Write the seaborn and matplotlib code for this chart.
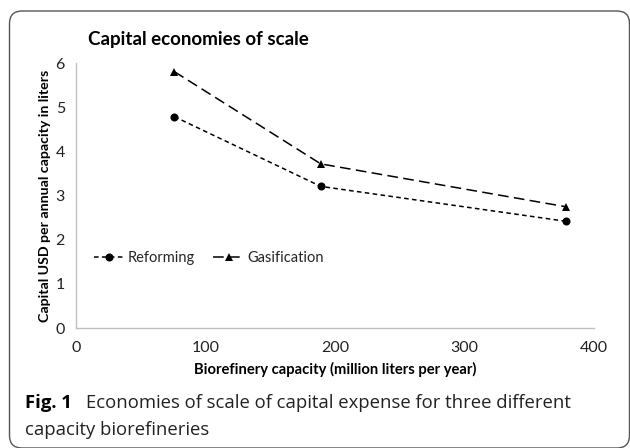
import matplotlib
matplotlib.use("Agg")
import matplotlib.pyplot as plt
import seaborn as sns
import pandas as pd
from matplotlib.patches import FancyBboxPatch
from matplotlib.lines import Line2D

capacity = [76, 189, 378]
reforming = [4.79, 3.21, 2.42]
gasification = [5.81, 3.72, 2.75]
x_ticks = [0, 100, 200, 300, 400]
y_ticks = [0, 1, 2, 3, 4, 5, 6]

sns.set_theme(style="white")
plt.rcParams['font.family'] = ['Lato', 'DejaVu Sans']

W, H = 630, 448
fig = plt.figure(figsize=(W / 100, H / 100), dpi=100)
ax = fig.add_axes([76 / W, 1 - 328 / H, (594 - 76) / W, (328 - 63.3) / H])

df_r = pd.DataFrame({"x": capacity, "y": reforming})
df_g = pd.DataFrame({"x": capacity, "y": gasification})
sns.lineplot(data=df_r, x="x", y="y", ax=ax, color="black", marker="o",
             markersize=5.8, linewidth=1.1, markeredgewidth=0)
sns.lineplot(data=df_g, x="x", y="y", ax=ax, color="black", marker="^",
             markersize=6.3, linewidth=1.1, markeredgewidth=0)
ax.lines[0].set_dashes((3, 2.2))
ax.lines[1].set_dashes((7, 3.5))

ax.set_xlim(0, 400)
ax.set_ylim(0, 6)
ax.set_xticks(x_ticks)
ax.set_yticks(y_ticks)
ax.set_xticklabels([str(v) for v in x_ticks])
ax.set_yticklabels([str(v) for v in y_ticks])
for s in ["top", "right"]:
    ax.spines[s].set_visible(False)
for s in ["left", "bottom"]:
    ax.spines[s].set_color("#bfbfbf")
    ax.spines[s].set_linewidth(1.0)
ax.tick_params(axis="both", which="major", direction="out", length=4,
               color="#bfbfbf", width=1.0, labelsize=11.5, labelcolor="#222222")
ax.tick_params(axis="x", pad=5)
ax.tick_params(axis="y", pad=4)

ax.set_xlabel("Biorefinery capacity (million liters per year)", fontsize=10.6,
              fontweight="bold", color="black", labelpad=5)
ax.set_ylabel("Capital USD per annual capacity in liters", fontsize=10.2,
              fontweight="bold", color="black", labelpad=3)

fig.text(88 / W, 1 - 40 / H, "Capital economies of scale", fontsize=13.5,
         fontweight="bold", va="center", ha="left", color="black")

h1 = Line2D([], [], color="black", marker="o", markersize=5.8, linewidth=1.1,
            dashes=(3, 2.2), markeredgewidth=0)
h2 = Line2D([], [], color="black", marker="^", markersize=6.3, linewidth=1.1,
            dashes=(7, 3.5), markeredgewidth=0)
ax.legend([h1, h2], ["Reforming", "Gasification"], ncol=2, frameon=False,
          loc="center left", bbox_to_anchor=(0.023, 0.265), fontsize=10.5,
          handlelength=2.1, handletextpad=0.2, columnspacing=1.3,
          borderaxespad=0)

cap_family = ["Open Sans", "DejaVu Sans"]
t1 = fig.text(25 / W, 1 - 408 / H, "Fig. 1", fontsize=13.3, va="baseline",
              ha="left", fontweight="bold", color="black", family=cap_family)
fig.canvas.draw()
bb = t1.get_window_extent(renderer=fig.canvas.get_renderer())
fig.text((bb.x1 + 14) / W, 1 - 408 / H,
         "Economies of scale of capital expense for three different",
         fontsize=13.3, va="baseline", ha="left", color="#222222",
         family=cap_family)
fig.text(25 / W, 1 - 435 / H, "capacity biorefineries", fontsize=13.3,
         va="baseline", ha="left", color="#222222", family=cap_family)

box = FancyBboxPatch((9.5 / W, 0 / H), (629.5 - 9.5) / W, (H - 11) / H,
                     boxstyle="round,pad=0,rounding_size=0.02",
                     transform=fig.transFigure, fill=False,
                     edgecolor="#555555", linewidth=1.0, mutation_aspect=W / H)
fig.patches.append(box)

fig.savefig("out.png", dpi=100)
